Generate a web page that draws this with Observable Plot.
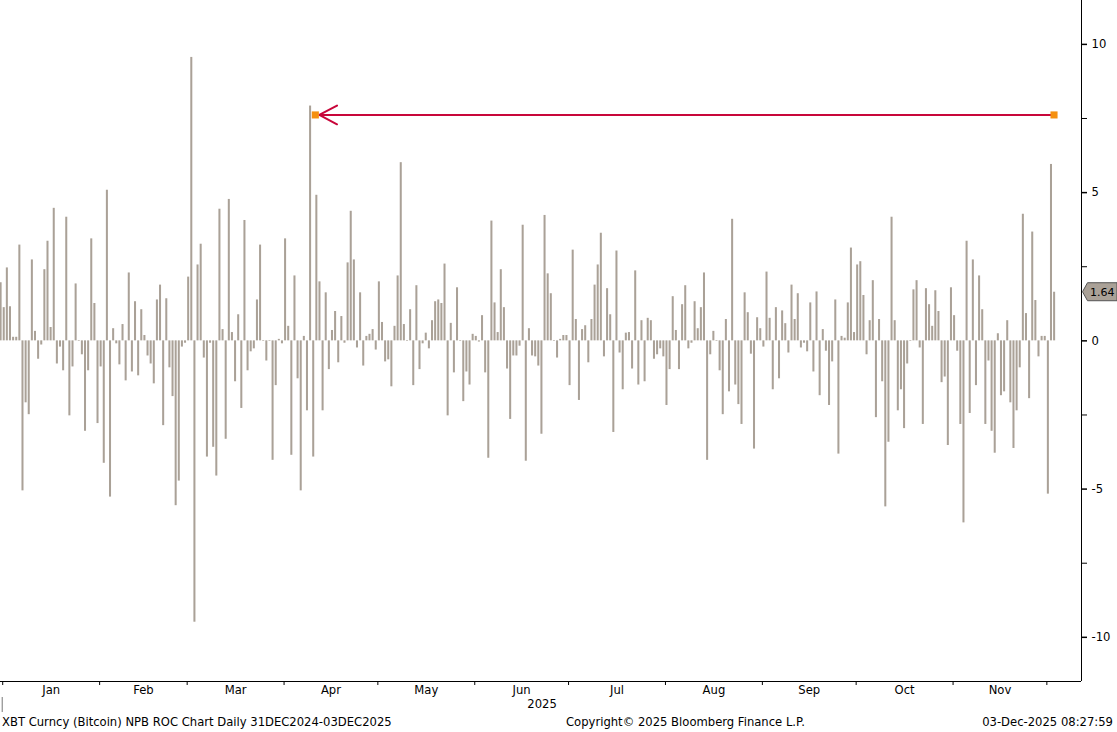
<!DOCTYPE html>
<html><head><meta charset="utf-8">
<script src="https://cdn.jsdelivr.net/npm/d3@7"></script>
<script src="https://cdn.jsdelivr.net/npm/@observablehq/plot@0.6"></script>
<style>
body{margin:0;background:#fff;}
#wrap{position:relative;width:1117px;height:732px;overflow:hidden;font-family:"DejaVu Sans",sans-serif;background:#fff;}
#footer{position:absolute;top:713px;left:0;width:1117px;height:19px;font-size:11.6px;color:#000;}
#footer span{position:absolute;top:2px;white-space:nowrap;}
</style></head><body>
<div id="wrap"><div id="chart"></div>
<div id="footer"><span id="fl" style="left:2px"></span><span id="fc" style="left:566px"></span><span id="fr" style="right:4px"></span></div>
</div>
<script>
// Daily rate of change (%) of XBT Curncy, 31 Dec 2024 .. 03 Dec 2025
const roc = [
 1.96, 1.12, 2.46, 1.15, 0.12, 0.12, 3.23,-5.06,-2.09,-2.49, 2.73, 0.32,-0.62,-0.14, 2.40, 3.36, 0.45, 4.47,-0.78,-0.21,
-1.01, 4.17,-2.53,-0.88, 1.92,-0.02,-0.47,-3.05,-1.01, 3.44, 1.26,-2.79,-0.88,-4.13, 5.08,-5.27, 0.41,-0.10,-0.81, 0.55,
-1.35, 2.29,-1.05, 1.32,-1.18, 1.05, 0.18,-0.51,-0.78,-1.45, 1.38, 1.88,-2.86, 1.42,-0.91,-1.88,-5.56,-4.73,-0.21,-0.08,
 2.15, 9.56,-9.49, 2.56, 3.26,-0.58,-3.92,-0.08,-3.59,-4.56, 4.44, 0.38,-3.32, 4.77, 0.28,-1.38, 0.88,-2.28, 4.06,-1.01,
-0.37,-0.27, 1.38, 3.23,-0.02,-0.68,-0.02,-4.03,-1.51, 0.05,-0.10, 3.44, 0.49,-3.86, 2.19,-1.28,-5.06, 0.15,-2.36, 7.92,
-3.92, 4.91, 1.99,-2.36, 1.62,-0.97, 0.35, 0.99,-0.74, 0.82,-0.08, 2.63, 4.37, 2.73,-0.24, 1.62,-0.85, 0.15, 0.22, 0.38,
-0.31, 1.99, 0.62,-0.71,-0.64,-1.55, 0.49, 2.19, 6.01, 0.55,-0.02, 1.05,-1.51, 1.86,-0.97,-0.10, 0.26,-0.27, 0.68, 1.32,
 1.38, 1.26, 2.59,-2.53, 0.59,-1.08, 1.79,-0.02,-2.05,-1.05,-1.49, 0.22, 0.15,-0.04, 0.85,-1.08,-3.96, 4.04, 1.28, 0.28,
 2.40, 1.12,-0.95,-2.65,-0.51,-0.51,-0.18, 3.90,-4.06, 0.41,-0.51,-0.54,-0.85,-3.15, 4.23, 2.26, 1.59,-0.02,-0.58, 0.05,
 0.18, 0.18,-1.51, 3.06, 0.72,-2.01, 0.38, 0.51,-0.74, 0.72, 1.88, 2.56, 3.63,-0.54, 1.76, 0.88,-3.09, 3.03,-0.41,-1.65,
 0.26, 0.28,-0.95, 2.36,-1.49, 0.68,-1.38, 0.76, 0.68,-0.62,-0.47,-0.27,-0.54,-2.18,-0.97, 1.49, 0.35,-0.97, 1.22, 1.86,
-0.27,-0.08, 1.32, 0.41, 1.12, 2.29,-4.03,-0.47, 0.32,-0.02,-1.01,-2.49, 0.72,-1.72, 4.10,-1.49,-2.15,-2.82, 1.62, 0.95,
-0.45,-3.65, 0.78, 0.41,-0.21, 2.32, 0.76,-1.65, 1.12,-1.28, 1.01, 0.58,-0.41, 1.88, 0.72, 1.59,-0.24,-0.08,-0.37, 1.28,
-1.05, 1.65,-1.85, 0.38,-0.35,-2.18,-0.71, 1.38,-3.82, 0.15, 0.09, 1.28, 3.13, 0.28, 2.56, 2.67, 1.53,-0.47, 0.68, 2.03,
-2.59, 0.72,-1.38,-5.60,-3.42, 4.17, 0.68,-2.36,-1.65,-2.96,-0.78,-0.02, 1.72, 2.03,-0.24,-2.82, 1.76, 1.22, 0.49, 1.69,
 0.99,-1.41,-1.22,-3.53, 1.79, 0.85,-0.35,-2.82,-6.14, 3.36,-2.45, 2.73,-1.51, 2.19, 1.05,-2.82,-0.68,-3.05,-3.79, 0.24,
-1.85,-1.72, 0.68,-2.09,-3.63,-2.36,-0.91, 4.27, 0.92,-1.95, 3.67, 1.36,-0.54, 0.15, 0.15,-5.17, 5.95, 1.64
];
const startDate = "2024-12-31";
const monthLabels = ["Jan","Feb","Mar","Apr","May","Jun","Jul","Aug","Sep","Oct","Nov"];
const yearLabel = "2025";
const yTicks = [-10, -5, 0, 5, 10];
const yMinorTicks = [-7.5, -2.5, 2.5, 7.5];
// horizontal annotation line drawn on the chart
const lineLevel = 7.62;
const lineFrom = "2025-04-11T00:00Z";
const lineTo = "2025-12-03T07:00Z";
const footerLeft = "XBT Curncy (Bitcoin) NPB ROC Chart Daily 31DEC2024-03DEC2025";
const footerCenter = "Copyright\u00A9 2025 Bloomberg Finance L.P.";
const footerRight = "03-Dec-2025 08:27:59";

const start = new Date(startDate + "T00:00Z");
const data = roc.map((v, i) => ({date: d3.utcDay.offset(start, i), v}));
const xDomain = [new Date("2024-12-31T07:00Z"), new Date("2025-12-12T02:00Z")];
const yDomain = [-11.49, 11.48];
const monthStarts = d3.utcMonths(new Date("2025-01-01T00:00Z"), new Date("2025-12-02T00:00Z"));
const monthMids = monthLabels.map((m, i) => {
  const s = d3.utcMonth.offset(new Date("2025-01-01T00:00Z"), i);
  const e = d3.utcMonth.offset(s, 1);
  return new Date((+s + +e) / 2);
});
const yearStart = new Date("2025-01-01T00:00Z");
const yearMid = new Date((+yearStart + +xDomain[1]) / 2);
const ends = [{x: new Date(lineFrom), y: lineLevel}, {x: new Date(lineTo), y: lineLevel}];
const hy = d => (d < 0 ? "-" + Math.abs(d) : String(d));

const barColor = "#aaa197";
const plot = Plot.plot({
  width: 1117, height: 712,
  marginTop: 0, marginLeft: 0, marginRight: 36, marginBottom: 31,
  x: {type: "utc", domain: xDomain},
  y: {domain: yDomain},
  style: {fontFamily: "DejaVu Sans", fontSize: "11.6px", background: "white", color: "black", overflow: "visible"},
  marks: [
    Plot.rectY(data, {x: "date", y: "v", interval: "day", fill: barColor, insetLeft: 0.5, insetRight: 0.6}),
    Plot.arrow([{a: ends[1], b: ends[0]}], {x1: d => d.a.x, y1: d => d.a.y, x2: d => d.b.x, y2: d => d.b.y,
      stroke: "#c8063a", strokeWidth: 2, headLength: 15, headAngle: 56, insetEnd: 4, insetStart: 0}),
    Plot.dot(ends, {x: "x", y: "y", symbol: "square", fill: "#f5900f", r: 4}),
    Plot.ruleX([xDomain[1]], {stroke: "black"}),
    Plot.ruleY([yDomain[0]], {stroke: "black"}),
    Plot.axisY({anchor: "right", ticks: yTicks, tickSize: 5, tickPadding: 5, tickFormat: hy, label: null, stroke: "black", strokeWidth: 1.5}),
    Plot.axisY({anchor: "right", ticks: yMinorTicks, tickSize: 5, tickFormat: () => "", label: null}),
    Plot.axisX({ticks: monthStarts, tickSize: 4, tickFormat: () => "", label: null}),
    Plot.axisX({ticks: monthMids, tickSize: 0, tickPadding: 4, tickFormat: (d, i) => monthLabels[i], label: null}),
    Plot.axisX({ticks: [yearMid], tickSize: 0, tickPadding: 18, tickFormat: () => yearLabel, label: null})
  ]
});
document.getElementById("chart").appendChild(plot);

// value tag for the latest bar, placed from the y scale
const last = roc[roc.length - 1];
const yy = plot.scale("y").apply(last);
const xr = 1117 - 36;
const svg = d3.select(plot);
const tag = svg.append("g");
tag.append("path")
  .attr("d", `M${xr + 1.5},${yy} L${xr + 6.5},${yy - 9} L1117,${yy - 9} L1117,${yy + 9} L${xr + 6.5},${yy + 9} Z`)
  .attr("fill", barColor).attr("stroke", "#555").attr("stroke-width", 1);
tag.append("text").attr("x", xr + 9).attr("y", yy).attr("dy", "0.36em")
  .attr("text-anchor", "start")
  .attr("font-family", "DejaVu Sans").attr("font-size", 11).attr("fill", "black").text(last.toFixed(2));
// year separator
const xs = plot.scale("x").apply(yearStart);
svg.append("line").attr("x1", xs).attr("x2", xs).attr("y1", 697).attr("y2", 712).attr("stroke", "#777").attr("stroke-width", 1);

document.getElementById("fl").textContent = footerLeft;
document.getElementById("fc").textContent = footerCenter;
document.getElementById("fr").textContent = footerRight;
</script>
</body></html>
